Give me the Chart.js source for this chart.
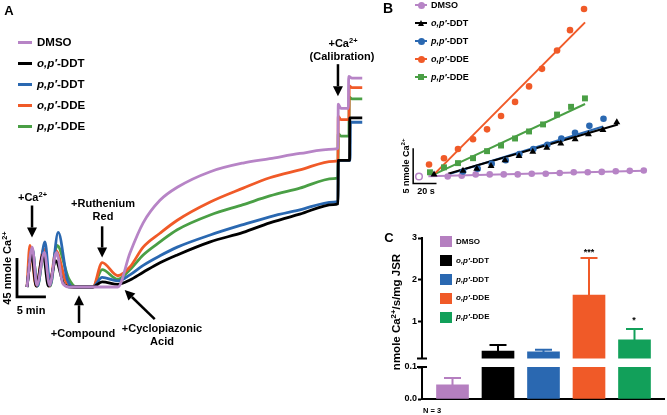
<!DOCTYPE html>
<html>
<head>
<meta charset="utf-8">
<script src="https://cdn.jsdelivr.net/npm/chart.js@4.4.1/dist/chart.umd.min.js"></script>
<style>
  html, body { margin: 0; padding: 0; background: #fff; }
  body { width: 667px; height: 415px; position: relative; overflow: hidden; }
  canvas { position: absolute; }
  .lbl { position: absolute; white-space: nowrap; font-family: "Liberation Sans", Arial, sans-serif; font-weight: bold; line-height: 1; color: #000; }
  .lbl sup { font-size: 0.68em; line-height: 0; vertical-align: 0.5em; }
  .sw { position: absolute; }
</style>
</head>
<body>
<canvas id="chartA" width="380" height="335" style="left:0;top:0"></canvas>
<canvas id="chartB" width="272" height="205" style="left:395px;top:0"></canvas>
<canvas id="chartCtop" width="287" height="140" style="left:380px;top:225px"></canvas>
<canvas id="chartCbot" width="287" height="60" style="left:380px;top:355px"></canvas>
<script>
// ---- data ----
const seriesNames = ["DMSO", "o,p′-DDT", "p,p′-DDT", "o,p′-DDE", "p,p′-DDE"];

// A: Ca2+ traces (min, nmole Ca2+)
const aDmsoT = [0, 0.9, 1.7, 3.0, 3.9, 5.1, 6.2, 7.3, 15.7, 17.8, 20.1, 23.0, 26.0, 31.7, 37.4, 42.0, 47.2, 53.0, 53.8, 53.85, 54.3, 55.6, 55.65, 56.2, 58];
const aDmsoV = [0, 46, 2, 40, 2, 40, 4, 0, 0, 39, 74, 100, 115, 133, 143, 148, 154, 159, 160, 211, 206, 206, 243, 241, 241];
const aOpDdtT = [0, 0.8, 1.6, 2.8, 3.7, 5.0, 6.4, 7.6, 11.4, 13.0, 15.7, 17.8, 20.1, 23.0, 26.0, 31.7, 37.4, 42.0, 47.2, 53.0, 53.8, 53.85, 55.8, 55.85, 58];
const aOpDdtV = [0, 38, 1, 38, 1, 30, 3, 0, 0, 6, 3, 8, 17, 28, 37, 52, 63, 74, 84, 95, 96, 146, 146, 195, 195];
const aPpDdtT = [0, 0.9, 1.8, 3.1, 4.0, 5.4, 7.0, 8.2, 11.4, 13.0, 15.7, 17.8, 20.1, 23.0, 26.0, 31.7, 37.4, 42.0, 47.2, 53.0, 53.8, 53.85, 55.9, 55.95, 58];
const aPpDdtV = [0, 44, 1, 52, 2, 63, 8, 0, 0, 11, 7, 14, 25, 36, 46, 60, 72, 81, 89, 98, 99, 146, 146, 190, 190];
const aOpDdeT = [0, 0.5, 1.6, 2.9, 3.9, 5.0, 6.8, 8.0, 11.4, 13.0, 15.7, 17.8, 20.1, 23.0, 26.0, 31.7, 37.4, 42.0, 47.2, 53.0, 53.8, 53.85, 54.3, 55.7, 55.75, 56.2, 58];
const aOpDdeV = [0, 48, 1, 44, 1, 42, 5, 0, 0, 28, 13, 23, 46, 62, 77, 98, 114, 126, 135, 145, 146, 197, 193, 193, 232, 230, 230];
const aPpDdeT = [0, 0.9, 1.8, 3.0, 4.0, 5.2, 7.2, 8.6, 11.4, 13.0, 15.7, 17.8, 20.1, 23.0, 26.0, 31.7, 37.4, 42.0, 47.2, 53.0, 53.8, 53.85, 54.3, 55.7, 55.75, 56.2, 58];
const aPpDdeV = [0, 44, 1, 42, 1, 48, 10, 0, 0, 20, 9, 20, 37, 52, 66, 83, 95, 105, 114, 125, 126, 177, 174, 174, 219, 217, 217];

// B: uptake points (s, nmole Ca2+) and fitted lines
const bDmsoT = [0, 24.6, 36.6, 48.6, 60.6, 72.6, 84.6, 96.6, 108.6, 120.6, 132.6, 144.6, 156.6, 168.6, 180.6, 192.6];
const bDmsoV = [0, 0, 0.1, 0.3, 0.3, 0.3, 0.3, 0.4, 0.4, 0.5, 0.6, 0.6, 0.65, 0.75, 0.8, 0.85];
const bOpDdtT = [12.9, 37.7, 49.5, 61.7, 73.7, 85.7, 97.5, 109.5, 121.5, 133.8, 145.2, 157.6, 169.5];
const bOpDdtV = [0.3, 0.8, 1.1, 1.5, 2.3, 2.9, 3.5, 4.1, 4.7, 5.3, 6.0, 6.6, 7.7];
const bPpDdtT = [37.7, 50.3, 62.3, 74.3, 86.0, 98.0, 110.0, 122.0, 133.7, 146.0, 158.1];
const bPpDdtV = [0.7, 1.1, 1.8, 2.3, 3.2, 3.9, 4.5, 5.4, 6.2, 7.2, 8.2];
const bOpDdeT = [8.6, 21.4, 33.4, 46.3, 58.3, 70.3, 82.3, 94.3, 105.4, 118.3, 129.4, 141.4];
const bOpDdeV = [1.7, 2.6, 3.9, 5.3, 6.7, 8.6, 10.6, 12.8, 15.3, 17.9, 20.8, 23.8];
const bPpDdeT = [9.4, 21.4, 33.4, 46.3, 58.3, 70.3, 82.3, 94.3, 106.3, 118.3, 130.3, 142.2];
const bPpDdeV = [0.6, 1.3, 1.9, 2.6, 3.6, 4.4, 5.4, 6.4, 7.4, 8.8, 9.9, 11.1];
const bFitT = [[8, 193], [24.9, 170.5], [26.6, 157.7], [12.9, 142.3], [12.9, 142.3]];
const bFitV = [[0.05, 0.83], [0.4, 7.4], [0.4, 7.1], [0.3, 21.9], [0.3, 10.3]];

// C: rates (nmole Ca2+/s/mg JSR)
const cMeans = [0.044, 0.28, 0.26, 1.63, 0.55];
const cErrors = [0.022, 0.15, 0.05, 0.89, 0.26];
const cUpperTicks = [1, 2, 3];
const cLowerTicks = [0, 0.1];

// ---- styles ----
const lineColors = ["#b784c6", "#000000", "#2a68b1", "#f05a28", "#4a9f45"];
const barColors = ["#b57fc0", "#000000", "#2a68b1", "#f05a28", "#12a05a"];
const bShapes = ["circle", "triangle", "circle", "circle", "rect"];
const bRadius = { circle: 3.3, triangle: 4, rect: 4.2 };

Chart.defaults.font.family = "'Liberation Sans', Arial, sans-serif";
Chart.defaults.font.weight = "bold";
Chart.defaults.color = "#000";

// padding so that the chart area lands where the figure has it
function pad(box, map, xmin, xmax, ymin, ymax, axisW = 0) {
  const l = map.x0 + xmin * map.kx, r = map.x0 + xmax * map.kx;
  const t = map.y0 - ymax * map.ky, b = map.y0 - ymin * map.ky;
  return { left: l - box.left - axisW, right: box.left + box.w - r, top: t - box.top, bottom: box.top + box.h - b };
}

function drawArrow(ctx, x1, y1, x2, y2) {
  const ang = Math.atan2(y2 - y1, x2 - x1);
  const hl = 10, hw = 5;
  const bx = x2 - hl * Math.cos(ang), by = y2 - hl * Math.sin(ang);
  ctx.beginPath();
  ctx.moveTo(x1, y1);
  ctx.lineTo(bx, by);
  ctx.stroke();
  ctx.beginPath();
  ctx.moveTo(x2, y2);
  ctx.lineTo(bx + hw * Math.sin(ang), by - hw * Math.cos(ang));
  ctx.lineTo(bx - hw * Math.sin(ang), by + hw * Math.cos(ang));
  ctx.closePath();
  ctx.fill();
}

// ---- A ----
const aTimes = [aDmsoT, aOpDdtT, aPpDdtT, aOpDdeT, aPpDdeT];
const aVals = [aDmsoV, aOpDdtV, aPpDdtV, aOpDdeV, aPpDdeV];

const aExtras = {
  id: "aExtras",
  afterDatasetsDraw(chart) {
    const { ctx, scales: { x, y } } = chart;
    ctx.save();
    ctx.strokeStyle = "#000";
    ctx.fillStyle = "#000";
    // scale bar: 45 nmole, 5 min
    ctx.lineWidth = 2.8;
    ctx.beginPath();
    ctx.moveTo(x.getPixelForValue(-1.73), y.getPixelForValue(-11.5 + 45));
    ctx.lineTo(x.getPixelForValue(-1.73), y.getPixelForValue(-11.5));
    ctx.lineTo(x.getPixelForValue(-1.73 + 5), y.getPixelForValue(-11.5));
    ctx.stroke();
    // additions
    ctx.lineWidth = 2.5;
    [[0.87, 94, 0.87, 57], [13.0, 70, 13.0, 34], [9.0, -41.5, 9.0, -9.5],
     [22.1, -37, 16.9, -3.5], [53.8, 257, 53.8, 220]].forEach(a => {
      drawArrow(ctx, x.getPixelForValue(a[0]), y.getPixelForValue(a[1]),
        x.getPixelForValue(a[2]), y.getPixelForValue(a[3]));
    });
    ctx.restore();
  }
};

new Chart(document.getElementById("chartA"), {
  type: "line",
  data: {
    datasets: aTimes.map((ts, i) => ({
      label: seriesNames[i],
      data: ts.map((t, j) => ({ x: t, y: aVals[i][j] })),
      borderColor: lineColors[i],
      borderWidth: 2.8,
      borderJoinStyle: "round",
      pointRadius: 0,
      cubicInterpolationMode: "monotone",
      fill: false,
    })),
  },
  options: {
    responsive: false,
    animation: false,
    events: [],
    layout: { padding: pad({ left: 0, top: 0, w: 380, h: 335 }, { x0: 27, kx: 5.78, y0: 287, ky: 0.867 }, -2, 60, -12, 250) },
    scales: {
      x: { type: "linear", min: -2, max: 60, display: false },
      y: { min: -12, max: 250, display: false },
    },
    plugins: { legend: { display: false }, tooltip: { enabled: false } },
  },
  plugins: [aExtras],
});

// ---- B ----
const bTimes = [bDmsoT, bOpDdtT, bPpDdtT, bOpDdeT, bPpDdeT];
const bVals = [bDmsoV, bOpDdtV, bPpDdtV, bOpDdeV, bPpDdeV];
const bOrder = [1, 2, 3, 4, 0];

const bPoints = bOrder.map(i => ({
  data: bTimes[i].map((t, j) => ({ x: t, y: bVals[i][j] })),
  pointStyle: bShapes[i],
  pointRadius: bRadius[bShapes[i]],
  pointBackgroundColor: (c) => (i === 0 && c.dataIndex === 0 ? "#fff" : lineColors[i]),
  pointBorderColor: lineColors[i],
  pointBorderWidth: (c) => (i === 0 && c.dataIndex === 0 ? 1.5 : 0),
  showLine: false,
  clip: false,
}));
const bLines = bOrder.map(i => ({
  data: bFitT[i].map((t, j) => ({ x: t, y: bFitV[i][j] })),
  borderColor: lineColors[i],
  borderWidth: 2,
  pointRadius: 0,
  showLine: true,
  clip: false,
}));

const bExtras = {
  id: "bExtras",
  afterDatasetsDraw(chart) {
    const { ctx, scales: { x, y } } = chart;
    ctx.save();
    ctx.strokeStyle = "#000";
    ctx.lineWidth = 1.5;
    ctx.beginPath();
    ctx.moveTo(x.getPixelForValue(-5), y.getPixelForValue(-1 + 5));
    ctx.lineTo(x.getPixelForValue(-5), y.getPixelForValue(-1));
    ctx.lineTo(x.getPixelForValue(-5 + 20), y.getPixelForValue(-1));
    ctx.stroke();
    ctx.restore();
  }
};

new Chart(document.getElementById("chartB"), {
  type: "scatter",
  data: { datasets: [...bPoints, ...bLines] },
  options: {
    responsive: false,
    animation: false,
    events: [],
    layout: { padding: pad({ left: 395, top: 0, w: 272, h: 205 }, { x0: 419, kx: 1.167, y0: 176, ky: 7.2 }, -12, 206, -3, 24.3) },
    scales: {
      x: { type: "linear", min: -12, max: 206, display: false },
      y: { min: -3, max: 24.3, display: false },
    },
    plugins: { legend: { display: false }, tooltip: { enabled: false } },
  },
  plugins: [bExtras],
});

// ---- C (broken axis: two stacked charts) ----
const errorBars = {
  id: "errorBars",
  afterDatasetsDraw(chart) {
    const { ctx, chartArea: a, scales: { y } } = chart;
    const meta = chart.getDatasetMeta(0);
    ctx.save();
    ctx.beginPath();
    ctx.rect(a.left, a.top - 1, a.right - a.left, a.bottom - a.top + 1);
    ctx.clip();
    meta.data.forEach((bar, i) => {
      const top = y.getPixelForValue(cMeans[i]);
      const hi = y.getPixelForValue(cMeans[i] + cErrors[i]);
      ctx.strokeStyle = barColors[i];
      ctx.lineWidth = 2;
      ctx.beginPath();
      ctx.moveTo(bar.x, top);
      ctx.lineTo(bar.x, hi);
      ctx.moveTo(bar.x - 8.5, hi);
      ctx.lineTo(bar.x + 8.5, hi);
      ctx.stroke();
    });
    ctx.restore();
  }
};

// axis line of each segment plus the break marks
function axisSegment(edge) {
  return {
    id: "axisSegment",
    afterDraw(chart) {
      const { ctx, chartArea: a } = chart;
      const yy = edge === "bottom" ? a.bottom : a.top;
      ctx.save();
      ctx.strokeStyle = "#000";
      ctx.lineWidth = 2;
      ctx.beginPath();
      ctx.moveTo(a.left, a.top - 1);
      ctx.lineTo(a.left, a.bottom + 1);
      ctx.moveTo(a.left - 5, yy);
      ctx.lineTo(a.left + 5, yy);
      ctx.stroke();
      ctx.restore();
    }
  };
}

function cChart(id, box, map, ymin, ymax, ticks, fmt, edge, showBase) {
  return new Chart(document.getElementById(id), {
    type: "bar",
    data: {
      datasets: [{
        data: cMeans.map((v, i) => ({ x: i, y: v })),
        backgroundColor: barColors,
        barThickness: 32,
        clip: 0,
      }],
    },
    options: {
      responsive: false,
      animation: false,
      events: [],
      layout: { padding: pad(box, map, -0.67, 4.67, ymin, ymax, 30) },
      scales: {
        x: {
          type: "linear", min: -0.67, max: 4.67, offset: false, display: showBase,
          afterFit: (s) => { s.height = 0; },
          ticks: { display: false },
          grid: { display: false, offset: false },
          border: { color: "#000", width: 2 },
        },
        y: {
          min: ymin, max: ymax,
          afterFit: (s) => { s.width = 30; },
          afterBuildTicks: (s) => { s.ticks = ticks.map(v => ({ value: v })); },
          ticks: { color: "#000", font: { size: 9, weight: "bold" }, padding: 1, callback: fmt },
          grid: { drawOnChartArea: false, tickLength: 4, tickWidth: 2, tickColor: "#000" },
          border: { color: "#000", width: 2 },
        },
      },
      plugins: { legend: { display: false }, tooltip: { enabled: false } },
    },
    plugins: [errorBars, axisSegment(edge)],
  });
}

cChart("chartCtop", { left: 380, top: 225, w: 287, h: 140 }, { x0: 452.5, kx: 45.5, y0: 364.75, ky: 42.25 },
  0.1, 3, cUpperTicks, (v) => String(v), "bottom", false);
cChart("chartCbot", { left: 380, top: 355, w: 287, h: 60 }, { x0: 452.5, kx: 45.5, y0: 399, ky: 320 },
  0, 0.1, cLowerTicks, (v) => v.toFixed(1), "top", true);

// ---- text and legends ----
function addText(html, x, y, size, align = "center", rotate = 0) {
  const d = document.createElement("div");
  d.className = "lbl";
  d.innerHTML = html;
  d.style.left = x + "px";
  d.style.top = y + "px";
  d.style.fontSize = size + "px";
  const tx = align === "left" ? "0" : "-50%";
  d.style.transform = `translate(${tx}, -50%)` + (rotate ? ` rotate(${rotate}deg)` : "");
  document.body.appendChild(d);
}
function addBox(x, y, w, h, css) {
  const d = document.createElement("div");
  d.className = "sw";
  d.style.left = x + "px";
  d.style.top = y + "px";
  d.style.width = w + "px";
  d.style.height = h + "px";
  Object.assign(d.style, css);
  document.body.appendChild(d);
}
const nameHtml = (n) => n.replace(/^([op],p′)/, "<i>$1</i>");

// panel A
addText("A", 9, 10, 13);
seriesNames.forEach((n, i) => {
  const yy = 42.5 + 21 * i;
  addBox(18, yy - 1.75, 14, 3.5, { background: lineColors[i] });
  addText(nameHtml(n), 37, yy, 11.5, "left");
});
addText("+Ca<sup>2+</sup>", 32.5, 197, 11);
addText("+Ruthenium", 103, 203, 11);
addText("Red", 103, 216, 11);
addText("+Compound", 83, 333, 11);
addText("+Cyclopiazonic", 162, 328, 11);
addText("Acid", 162, 341, 11);
addText("+Ca<sup>2+</sup>", 343, 43, 11);
addText("(Calibration)", 342, 56, 11);
addText("45 nmole Ca<sup>2+</sup>", 7, 268, 11, "center", -90);
addText("5 min", 31, 310, 11);

// panel B
addText("B", 388, 8, 14);
seriesNames.forEach((n, i) => {
  const yy = 5 + 18 * i;
  addBox(415, yy - 1, 12, 2, { background: lineColors[i] });
  if (bShapes[i] === "triangle") {
    addBox(417.5, yy - 3.5, 0, 0, { borderLeft: "3.5px solid transparent", borderRight: "3.5px solid transparent", borderBottom: "6px solid " + lineColors[i] });
  } else if (bShapes[i] === "rect") {
    addBox(418, yy - 3, 6, 6, { background: lineColors[i] });
  } else {
    addBox(417.5, yy - 3.5, 7, 7, { background: lineColors[i], borderRadius: "50%" });
  }
  addText(nameHtml(n), 431, yy, 9, "left");
});
addText("5 nmole Ca<sup>2+</sup>", 406, 166, 9, "center", -90);
addText("20 s", 426, 191, 9);

// panel C
addText("C", 389, 237, 13);
seriesNames.forEach((n, i) => {
  const yy = 241.7 + 18.9 * i;
  addBox(440, yy - 5.5, 12, 11, { background: barColors[i] });
  addText(nameHtml(n), 456, yy, 8, "left");
});
addText("nmole Ca<sup>2+</sup>/s/mg JSR", 397, 312, 11.5, "center", -90);
addText("***", 589, 252, 9);
addText("*", 634, 320, 9);
addText("N = 3", 432, 411, 7.5);
</script>
</body>
</html>
